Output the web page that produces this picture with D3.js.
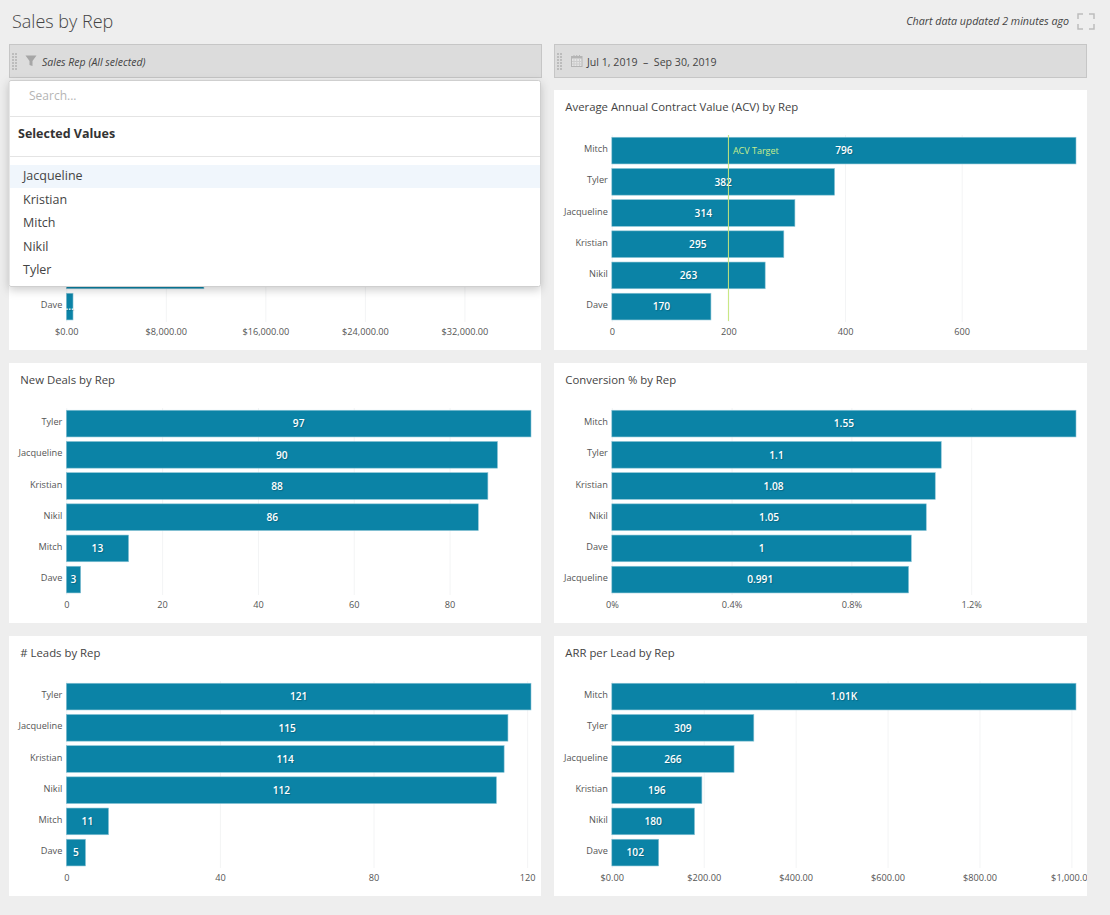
<!DOCTYPE html>
<html>
<head>
<meta charset="utf-8">
<script src="https://cdn.jsdelivr.net/npm/d3@7"></script>
<style>
  html, body { margin: 0; padding: 0; background: #eeeeee; overflow: hidden; }
  svg text { font-family: "Open Sans", sans-serif; }
  .grid line { stroke: #f3f4f5; }
  .grid path, .x-axis path, .y-axis path, .x-axis line, .y-axis line { display: none; }
  .x-axis text, .y-axis text { font-size: 9.2px; fill: #555; }
  .bar-label { font-size: 10.2px; font-weight: 600; fill: #fff; text-anchor: middle; text-shadow: 1px 1px 1px rgba(0,0,0,0.2); }
</style>
</head>
<body>
<svg id="chart" width="1110" height="915"></svg>
<script>
// values. the first chart is mostly hidden by the open filter
var salesReps = ['Tyler', 'Jacqueline', 'Kristian', 'Nikil', 'Mitch', 'Dave'];
var salesValues = [37389, 30590, 22344, 20160, 11060, 540];
var salesLabels = ['', '', '', '', '', '...'];
var salesTicks = [0, 8000, 16000, 24000, 32000];

var acvReps = ['Mitch', 'Tyler', 'Jacqueline', 'Kristian', 'Nikil', 'Dave'];
var acvValues = [796, 382, 314, 295, 263, 170];
var acvTicks = [0, 200, 400, 600];
var acvTarget = 200;

var dealReps = ['Tyler', 'Jacqueline', 'Kristian', 'Nikil', 'Mitch', 'Dave'];
var dealValues = [97, 90, 88, 86, 13, 3];
var dealTicks = [0, 20, 40, 60, 80];

var convReps = ['Mitch', 'Tyler', 'Kristian', 'Nikil', 'Dave', 'Jacqueline'];
var convValues = [1.55, 1.1, 1.08, 1.05, 1, 0.991];
var convTicks = [0, 0.4, 0.8, 1.2];

var leadReps = ['Tyler', 'Jacqueline', 'Kristian', 'Nikil', 'Mitch', 'Dave'];
var leadValues = [121, 115, 114, 112, 11, 5];
var leadTicks = [0, 40, 80, 120];

var arrReps = ['Mitch', 'Tyler', 'Jacqueline', 'Kristian', 'Nikil', 'Dave'];
var arrValues = [1010, 309, 266, 196, 180, 102];
var arrLabels = ['1.01K', '309', '266', '196', '180', '102'];
var arrTicks = [0, 200, 400, 600, 800, 1000];

var filterNames = ['Jacqueline', 'Kristian', 'Mitch', 'Nikil', 'Tyler'];

var money = d3.format('$,.2f');
var barColor = '#0b83a6';

var svg = d3.select('#chart');

// page header
svg.append('text')
  .attr('x', 12).attr('y', 28)
  .attr('font-size', 18)
  .attr('font-weight', 300)
  .attr('fill', '#444')
  .text('Sales by Rep');
svg.append('text')
  .attr('x', 1069).attr('y', 25)
  .attr('text-anchor', 'end')
  .attr('font-size', 10.7)
  .attr('font-style', 'italic')
  .attr('fill', '#444')
  .text('Chart data updated 2 minutes ago');

// fullscreen icon
[[1078, 14, 1, 1], [1094, 14, -1, 1], [1078, 29, 1, -1], [1094, 29, -1, -1]].forEach(function(c) {
  svg.append('path')
    .attr('d', 'M' + (c[0] + 5 * c[2]) + ',' + c[1] + 'H' + c[0] + 'V' + (c[1] + 5 * c[3]))
    .attr('fill', 'none')
    .attr('stroke', '#bdbdbd')
    .attr('stroke-width', 1.5);
});

var drawFilterBar = function(x, w, label, italic) {
  svg.append('rect')
    .attr('x', x + 0.5).attr('y', 44.5)
    .attr('width', w).attr('height', 33)
    .attr('fill', '#dcdcdc')
    .attr('stroke', '#c6c6c6');
  // drag handle
  d3.range(6).forEach(function(r) {
    d3.range(2).forEach(function(k) {
      svg.append('rect')
        .attr('x', x + 3 + k * 3).attr('y', 53 + r * 3)
        .attr('width', 2).attr('height', 2)
        .attr('fill', '#bcbcbc');
    });
  });
  svg.append('text')
    .attr('x', x + 33).attr('y', 66)
    .attr('font-size', italic ? 10.5 : 10.6)
    .attr('font-style', italic ? 'italic' : 'normal')
    .attr('fill', '#444')
    .attr('xml:space', 'preserve')
    .style('white-space', 'pre')
    .text(label);
};

drawFilterBar(9, 532, 'Sales Rep (All selected)', true);
drawFilterBar(554, 532, 'Jul 1, 2019  –  Sep 30, 2019', false);

// funnel icon
svg.append('path')
  .attr('d', 'M25.5,55.5H36.5L32.5,61V66L29.5,65V61Z')
  .attr('fill', '#a6a6a6');

// calendar icon
svg.append('rect')
  .attr('x', 571.5).attr('y', 56.5)
  .attr('width', 10.5).attr('height', 10)
  .attr('fill', '#e4e4e4')
  .attr('stroke', '#b4b4b4');
svg.append('rect')
  .attr('x', 571.5).attr('y', 56.5)
  .attr('width', 10.5).attr('height', 2)
  .attr('fill', '#b4b4b4');
[574, 576.75, 579.5].forEach(function(cx) {
  svg.append('line')
    .attr('x1', cx).attr('x2', cx)
    .attr('y1', 55).attr('y2', 58)
    .attr('stroke', '#b4b4b4');
  svg.append('line')
    .attr('x1', cx).attr('x2', cx)
    .attr('y1', 59).attr('y2', 66)
    .attr('stroke', '#cccccc');
});
[61.5, 64].forEach(function(cy) {
  svg.append('line')
    .attr('x1', 572).attr('x2', 581.5)
    .attr('y1', cy).attr('y2', cy)
    .attr('stroke', '#cccccc');
});

var drawPanel = function(px, py, pw, title, reps, values, labels, ticks, tickFormat, xMax, x0) {
  var panel = svg.append('svg')
    .attr('x', px).attr('y', py)
    .attr('width', pw).attr('height', 260);

  panel.append('rect')
    .attr('width', pw).attr('height', 260)
    .attr('fill', '#fff');

  if (title) {
    panel.append('text')
      .attr('x', 11.3).attr('y', 21)
      .attr('font-size', 11.35)
      .attr('fill', '#444')
      .text(title);
  }

  var x = d3.scaleLinear().domain([0, xMax]).range([x0, 522]);
  var y = d3.scaleBand()
    .domain(reps)
    .range([45, 232.2])
    .paddingInner(0.144)
    .paddingOuter(0.072);

  panel.append('g')
    .attr('class', 'grid')
    .attr('transform', 'translate(0,232)')
    .call(d3.axisBottom(x).tickValues(ticks).tickSize(-187).tickFormat(''));

  panel.selectAll('.bar')
    .data(values)
    .enter()
    .append('rect')
    .attr('class', 'bar')
    .attr('x', x(0))
    .attr('y', function(d, i) { return y(reps[i]); })
    .attr('width', function(d) { return x(d) - x(0); })
    .attr('height', y.bandwidth())
    .attr('fill', barColor)
    .attr('stroke', '#8cc4d6')
    .attr('stroke-width', 0.6);

  panel.selectAll('.bar-label')
    .data(labels)
    .enter()
    .append('text')
    .attr('class', 'bar-label')
    .attr('x', function(d, i) { return (x(0) + x(values[i])) / 2; })
    .attr('y', function(d, i) { return y(reps[i]) + y.bandwidth() / 2 + 3.7; })
    .text(function(d) { return d; });

  panel.append('g')
    .attr('class', 'y-axis')
    .attr('transform', 'translate(' + x(0) + ',-1.3)')
    .call(d3.axisLeft(y).tickSize(0).tickPadding(4));

  panel.append('g')
    .attr('class', 'x-axis')
    .attr('transform', 'translate(0,232)')
    .call(d3.axisBottom(x).tickValues(ticks).tickSize(0).tickPadding(6).tickFormat(tickFormat));

  return { panel: panel, x: x, y: y };
};

var strings = function(arr) {
  return arr.map(String);
};

var sales = drawPanel(9, 90, 532, null, salesReps, salesValues, salesLabels, salesTicks, money, 37350, 57.3);

// names of the rows behind the open filter are not visible
sales.panel.selectAll('.y-axis .tick')
  .filter(function(d) { return d !== 'Dave'; })
  .remove();

var acv = drawPanel(554, 90, 533, 'Average Annual Contract Value (ACV) by Rep', acvReps, acvValues, strings(acvValues),
  acvTicks, d3.format('d'), 796, 57.8);

// target line sits on top of the bars
acv.panel.append('line')
  .attr('x1', acv.x(acvTarget)).attr('x2', acv.x(acvTarget))
  .attr('y1', 45).attr('y2', 231)
  .attr('stroke', '#c5e57c')
  .attr('stroke-width', 1);
acv.panel.append('text')
  .attr('x', acv.x(acvTarget) + 4.5).attr('y', 64)
  .attr('font-size', 9)
  .attr('fill', '#c8ee8c')
  .text('ACV Target');

drawPanel(9, 363, 532, 'New Deals by Rep', dealReps, dealValues, strings(dealValues), dealTicks, d3.format('d'), 97, 57.3);

drawPanel(554, 363, 533, 'Conversion % by Rep', convReps, convValues, strings(convValues), convTicks,
  function(d) { return d + '%'; }, 1.55, 57.8);

drawPanel(9, 636, 532, '# Leads by Rep', leadReps, leadValues, strings(leadValues), leadTicks, d3.format('d'), 121, 57.3);

drawPanel(554, 636, 533, 'ARR per Lead by Rep', arrReps, arrValues, arrLabels, arrTicks, money, 1010, 57.8);

// open filter dropdown
var defs = svg.append('defs');
var shadow = defs.append('filter')
  .attr('id', 'drop')
  .attr('x', '-5%').attr('y', '-5%')
  .attr('width', '110%').attr('height', '115%');
shadow.append('feDropShadow')
  .attr('dx', 0).attr('dy', 3)
  .attr('stdDeviation', 5)
  .attr('flood-color', '#000')
  .attr('flood-opacity', 0.2);

var drop = svg.append('g').attr('transform', 'translate(9,80)');
drop.append('rect')
  .attr('x', 0).attr('y', 0.5)
  .attr('width', 531.5).attr('height', 206)
  .attr('rx', 2)
  .attr('fill', '#fff')
  .attr('stroke', '#cfcfcf')
  .attr('filter', 'url(#drop)');
drop.append('text')
  .attr('x', 20).attr('y', 20)
  .attr('font-size', 12)
  .attr('fill', '#b5b5b5')
  .text('Search...');
drop.append('line')
  .attr('x1', 1).attr('x2', 531)
  .attr('y1', 36.5).attr('y2', 36.5)
  .attr('stroke', '#e4e4e4');
drop.append('text')
  .attr('x', 9).attr('y', 58)
  .attr('font-size', 12.5)
  .attr('font-weight', 700)
  .attr('fill', '#333')
  .text('Selected Values');
drop.append('line')
  .attr('x1', 1).attr('x2', 531)
  .attr('y1', 76.5).attr('y2', 76.5)
  .attr('stroke', '#e4e4e4');
drop.append('rect')
  .attr('x', 1).attr('y', 85)
  .attr('width', 530).attr('height', 23)
  .attr('fill', '#f0f6fc');

var nameY = d3.scalePoint().domain(filterNames).range([100, 194]);
drop.selectAll('.name')
  .data(filterNames)
  .enter()
  .append('text')
  .attr('class', 'name')
  .attr('x', 14)
  .attr('y', function(d) { return nameY(d); })
  .attr('font-size', 12.5)
  .attr('fill', '#444')
  .text(function(d) { return d; });
</script>
</body>
</html>
